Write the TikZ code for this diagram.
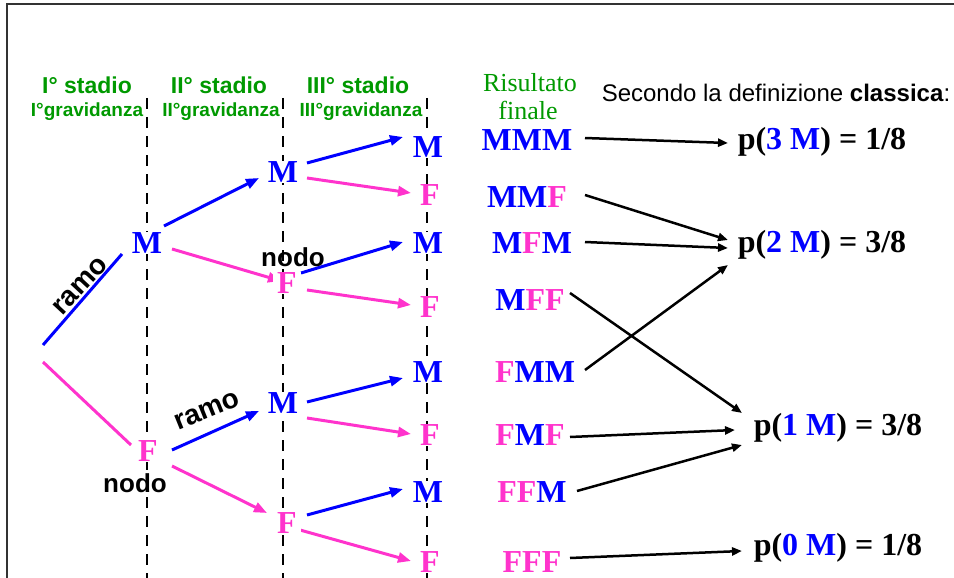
\documentclass[tikz,border=0pt]{standalone}
\usepackage{fontspec}
\setmainfont{Liberation Serif}
\setsansfont{Liberation Sans}
\usetikzlibrary{calc,arrows.meta}
\definecolor{mblue}{RGB}{0,0,255}
\definecolor{fpink}{RGB}{255,51,204}
\definecolor{hgreen}{RGB}{0,153,0}
\pgfdeclarelayer{bg}
\pgfsetlayers{bg,main}
\tikzset{
 letter/.style={font=\fontsize{32}{32}\selectfont\bfseries, inner xsep=4pt, inner ysep=1pt, fill=white},
 mlet/.style={letter, text=mblue},
 flet/.style={letter, text=fpink},
 res/.style={font=\fontsize{32}{32}\selectfont\bfseries, inner sep=0pt},
 stadio/.style={font=\fontsize{23}{23}\selectfont\sffamily\bfseries, text=hgreen, anchor=base, inner sep=0pt},
 grav/.style={font=\fontsize{19}{19}\selectfont\sffamily\bfseries, text=hgreen, anchor=base, inner sep=0pt},
 lbl/.style={font=\fontsize{26}{26}\selectfont\sffamily\bfseries, inner sep=0pt},
 ramolbl/.style={font=\fontsize{28}{28}\selectfont\sffamily\bfseries, inner sep=0pt},
 bline/.style={draw=mblue, line width=3pt},
 fline/.style={draw=fpink, line width=3pt},
 barrow/.style={bline, -{Triangle[length=13pt,width=10pt]}},
 farrow/.style={fline, -{Triangle[length=13pt,width=10pt]}},
 karrow/.style={draw=black, line width=2.5pt, -{Triangle[length=10pt,width=8pt]}},
 divider/.style={draw=black, line width=2.5pt, dash pattern=on 11pt off 8pt},
}
\begin{document}
\begin{tikzpicture}[x=1pt,y=-1pt]
\useasboundingbox (0,0) rectangle (954,578);
% frame
\draw[line width=2pt, black!80] (7,578) -- (7,4.5) -- (954,4.5);
% dividers
\coordinate (d1t) at (147,98); \coordinate (d1b) at (147,578);
\coordinate (d2t) at (283,98); \coordinate (d2b) at (283,578);
\coordinate (d3t) at (427,98); \coordinate (d3b) at (427,578);
\begin{pgfonlayer}{bg}
\draw[divider] (d1t) -- (d1b);
\draw[divider] (d2t) -- (d2b);
\draw[divider] (d3t) -- (d3b);
\end{pgfonlayer}
% headers
\node[stadio] (s1) at (87,94) {I° stadio};
\node[stadio] (s2) at (219,94) {II° stadio};
\node[stadio] (s3) at (358,94) {III° stadio};
\node[grav] (g1) at (87,117) {I°gravidanza};
\node[grav] (g2) at (221,117) {II°gravidanza};
\node[grav] (g3) at (361,117) {III°gravidanza};
\node[font=\fontsize{26}{26}\selectfont, text=hgreen, anchor=base, inner sep=0pt] (ris) at (530,92) {Risultato};
\node[font=\fontsize{26}{26}\selectfont, text=hgreen, anchor=base, inner sep=0pt] (fin) at (528,119) {finale};
\node[font=\fontsize{24}{24}\selectfont\sffamily, anchor=base, inner sep=0pt] (def) at (776,102) {Secondo la definizione \textbf{classica}:};
% tree nodes
\coordinate (rootM) at (43,345);
\coordinate (rootF) at (43,362);
\node[mlet] (a1) at (147,243) {M};
\node[flet] (a2) at (148,451) {F};
\node[mlet] (b1) at (283,172) {M};
\node[flet] (b2) at (287,283) {F};
\node[mlet] (b3) at (283,403) {M};
\node[flet] (b4) at (287,523) {F};
\node[mlet] (c1) at (428,147) {M};
\node[flet] (c2) at (430,195) {F};
\node[mlet] (c3) at (428,243) {M};
\node[flet] (c4) at (430,307) {F};
\node[mlet] (c5) at (428,372) {M};
\node[flet] (c6) at (430,435) {F};
\node[mlet] (c7) at (428,492) {M};
\node[flet] (c8) at (430,562) {F};
% labels
\node[lbl] (nodo2) at (293,257) {nodo};
\node[lbl, fill=white, inner sep=1pt] (nodo1) at (135,483) {nodo};
\node[ramolbl, rotate=47] (ramo1) at (80,286) {ramo};
\node[ramolbl, rotate=22] (ramo2) at (207,411) {ramo};
% tree arrows
\begin{pgfonlayer}{bg}
\draw[bline] (rootM) -- ($(a1)+(-25,11)$);
\draw[fline] (rootF) -- ($(a2)+(-17,-6)$);
\draw[barrow] ($(a1)+(17,-17)$) -- ($(b1)+(-24,6)$);
\draw[farrow] ($(a1)+(25,6)$) -- ($(b2)+(-6,-2)$);
\draw[barrow] ($(b1)+(24,-9)$) -- ($(c1)+(-25,-10)$);
\draw[farrow] ($(b1)+(24,6)$) -- ($(c2)+(-19,-2)$);
\draw[barrow] ($(b2)+(14,-10)$) -- ($(c3)+(-25,-1)$);
\draw[farrow] ($(b2)+(20,7)$) -- ($(c4)+(-19,-2)$);
\draw[barrow] ($(a2)+(24,-1)$) -- ($(b3)+(-24,8)$);
\draw[farrow] ($(a2)+(24,15)$) -- ($(b4)+(-20,-10)$);
\draw[barrow] ($(b3)+(24,-1)$) -- ($(c5)+(-25,6)$);
\draw[farrow] ($(b3)+(24,15)$) -- ($(c6)+(-19,-1)$);
\draw[barrow] ($(b4)+(20,-8)$) -- ($(c7)+(-25,-3)$);
\draw[farrow] ($(b4)+(13,7)$) -- ($(c8)+(-19,-1)$);
\end{pgfonlayer}
% results
\node[res] (r1) at (527,140) {\color{mblue}MMM};
\node[res] (r2) at (527,197) {\color{mblue}MM\color{fpink}F};
\node[res] (r3) at (532,243) {\color{mblue}M\color{fpink}F\color{mblue}M};
\node[res] (r4) at (530,300) {\color{mblue}M\color{fpink}FF};
\node[res] (r5) at (535,372) {\color{fpink}F\color{mblue}MM};
\node[res] (r6) at (530,435) {\color{fpink}F\color{mblue}M\color{fpink}F};
\node[res] (r7) at (532,492) {\color{fpink}FF\color{mblue}M};
\node[res] (r8) at (532,562) {\color{fpink}FFF};
% probabilities
\node[res] (p3) at (822,142) {p({\color{mblue}3 M}) = 1/8};
\node[res] (p2) at (822,245) {p({\color{mblue}2 M}) = 3/8};
\node[res] (p1) at (838,428) {p({\color{mblue}1 M}) = 3/8};
\node[res] (p0) at (838,548) {p({\color{mblue}0 M}) = 1/8};
% result arrows
\draw[karrow] ($(r1)+(58,-2)$) -- ($(p3)+(-94,1)$);
\draw[karrow] ($(r2)+(58,-2)$) -- ($(p2)+(-94,-5)$);
\draw[karrow] ($(r3)+(53,-1)$) -- ($(p2)+(-94,3)$);
\draw[karrow] ($(r5)+(50,-2)$) -- ($(p2)+(-94,20)$);
\draw[karrow] ($(r4)+(40,-7)$) -- ($(p1)+(-96,-15)$);
\draw[karrow] ($(r6)+(40,2)$) -- ($(p1)+(-103,2)$);
\draw[karrow] ($(r7)+(45,-1)$) -- ($(p1)+(-96,17)$);
\draw[karrow] ($(r8)+(38,-4)$) -- ($(p0)+(-96,3)$);
\end{tikzpicture}
\end{document}
